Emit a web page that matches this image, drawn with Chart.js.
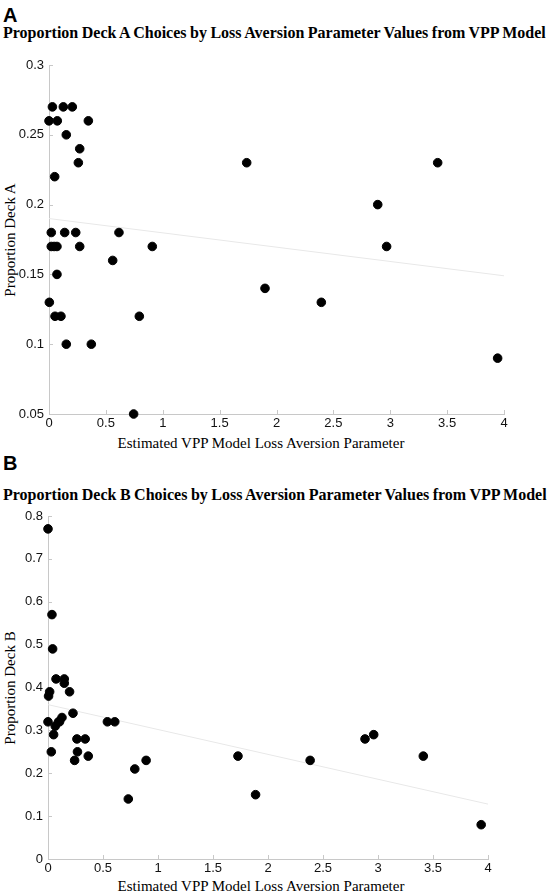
<!DOCTYPE html>
<html>
<head>
<meta charset="utf-8">
<script src="https://cdn.jsdelivr.net/npm/chart.js@4.4.1/dist/chart.umd.min.js"></script>
<style>
  body { margin: 0; background: #fff; width: 551px; height: 892px; position: relative; overflow: hidden; }
  canvas { position: absolute; left: 0; }
  .panel { position: absolute; left: 3px; font: bold 20px "Liberation Sans", Arial, sans-serif; line-height: 1; }
  .title { position: absolute; left: 3px; font: bold 16px "Liberation Serif", "Times New Roman", serif; white-space: nowrap; word-spacing: -0.5px; line-height: 1; }
  .xlab { position: absolute; font: 15px "Liberation Serif", "Times New Roman", serif; white-space: nowrap; transform: translateX(-50%); line-height: 1; }
  .ylab { position: absolute; font: 15px "Liberation Serif", "Times New Roman", serif; white-space: nowrap; transform: translate(-50%, -50%) rotate(-90deg); line-height: 1; }
</style>
</head>
<body>
<div class="panel" style="top:5px">A</div>
<div class="title" id="titleA" style="top:25px">Proportion Deck A Choices by Loss Aversion Parameter Values from VPP Model</div>
<div class="ylab" style="left:10px;top:240px">Proportion Deck A</div>
<div class="xlab" style="left:261px;top:436px">Estimated VPP Model Loss Aversion Parameter</div>
<canvas id="chartA" width="551" height="440" style="top:0"></canvas>

<div class="panel" style="top:453px">B</div>
<div class="title" id="titleB" style="top:487px">Proportion Deck B Choices by Loss Aversion Parameter Values from VPP Model</div>
<div class="ylab" style="left:10px;top:688px">Proportion Deck B</div>
<div class="xlab" style="left:261px;top:879px">Estimated VPP Model Loss Aversion Parameter</div>
<canvas id="chartB" width="551" height="440" style="top:440px"></canvas>

<script>
// panel A: loss aversion parameter vs proportion of deck A choices
const lossA = [0, 0.073, 0.346, 0.03, 0.126, 0.205, 0.152, 0.27, 0.258, 0.05,
  0.02, 0.138, 0.235, 0.615, 0.02, 0.045, 0.07, 0.27, 0.908, 0.56,
  0.07, 0.003, 0.053, 0.105, 0.794, 0.152, 0.372, 0.744,
  1.738, 3.417, 2.89, 2.968, 1.899, 2.394, 3.944];
const deckA = [0.26, 0.26, 0.26, 0.27, 0.27, 0.27, 0.25, 0.24, 0.23, 0.22,
  0.18, 0.18, 0.18, 0.18, 0.17, 0.17, 0.17, 0.17, 0.17, 0.16,
  0.15, 0.13, 0.12, 0.12, 0.12, 0.1, 0.1, 0.05,
  0.23, 0.23, 0.2, 0.17, 0.14, 0.13, 0.09];

// panel B: loss aversion parameter vs proportion of deck B choices
const lossB = [0, 0.036, 0.042, 0.073, 0.148, 0.148, 0.015, 0.005, 0.196, 0.227,
  0.127, 0.105, 0, 0.096, 0.54, 0.607, 0.066, 0.051, 0.263, 0.338,
  0.03, 0.268, 0.242, 0.366, 0.892, 0.789, 0.73,
  1.727, 1.887, 2.383, 2.882, 2.961, 3.412, 3.938];
const deckB = [0.77, 0.57, 0.49, 0.42, 0.42, 0.41, 0.39, 0.38, 0.39, 0.34,
  0.33, 0.32, 0.32, 0.32, 0.32, 0.32, 0.31, 0.29, 0.28, 0.28,
  0.25, 0.25, 0.23, 0.24, 0.23, 0.21, 0.14,
  0.24, 0.15, 0.23, 0.28, 0.29, 0.24, 0.08];

// fitted trend lines (ends at x = 0 and x = 4)
const trendX = [0, 4];
const trendA = [0.19, 0.149];
const trendB = [0.36, 0.128];

const axisGrey = "#c8c8c8";

//small ticks pointing into the plot, like the original figure
const innerTicks = {
  id: "innerTicks",
  beforeDatasetsDraw(chart) {
    const ctx = chart.ctx;
    const { x, y } = chart.scales;
    ctx.save();
    ctx.strokeStyle = axisGrey;
    ctx.lineWidth = 1;
    ctx.beginPath();
    x.ticks.forEach((t) => {
      const px = Math.round(x.getPixelForValue(t.value)) + 0.5;
      ctx.moveTo(px, y.bottom);
      ctx.lineTo(px, y.bottom - 4);
    });
    y.ticks.forEach((t) => {
      const py = Math.round(y.getPixelForValue(t.value)) + 0.5;
      ctx.moveTo(x.left, py);
      ctx.lineTo(x.left + 4, py);
    });
    ctx.stroke();
    ctx.restore();
  },
};

//plain tick text: 0.3 not 0.30, 1 not 1.0
const plainTick = (v) => String(Math.round(v * 100) / 100);

function makeChart(id, xs, ys, trend, yOpts, box) {
  const points = xs.map((v, i) => ({ x: v, y: ys[i] }));
  const line = trendX.map((v, i) => ({ x: v, y: trend[i] }));
  return new Chart(document.getElementById(id), {
    type: "scatter",
    data: {
      datasets: [
        {
          data: points,
          backgroundColor: "#000",
          borderColor: "#000",
          pointRadius: 4.3,
          pointHoverRadius: 4.3,
          clip: false,
          order: 1,
        },
        {
          type: "line",
          data: line,
          borderColor: "#e8e8e8",
          borderWidth: 1,
          pointRadius: 0,
          fill: false,
          order: 2,
        },
      ],
    },
    options: {
      responsive: false,
      animation: false,
      layout: { padding: { top: box.top, right: box.right, left: 0, bottom: 0 } },
      plugins: { legend: { display: false }, tooltip: { enabled: false } },
      scales: {
        x: {
          type: "linear",
          min: 0,
          max: 4,
          ticks: { stepSize: 0.5, padding: 2, color: "#111", font: { family: "Liberation Sans", size: 13 }, callback: plainTick },
          grid: { display: false, drawTicks: false },
          border: { display: true, color: axisGrey },
          afterFit: (s) => { s.height = box.xh; },
        },
        y: {
          type: "linear",
          min: yOpts.min,
          max: yOpts.max,
          ticks: { stepSize: yOpts.step, padding: 5, color: "#111", font: { family: "Liberation Sans", size: 13 }, callback: plainTick },
          grid: { display: false, drawTicks: false },
          border: { display: true, color: axisGrey },
          afterFit: (s) => { s.width = box.yw; },
        },
      },
    },
    plugins: [innerTicks],
  });
}

makeChart("chartA", lossA, deckA, trendA, { min: 0.05, max: 0.3, step: 0.05 }, { top: 65, right: 47, xh: 26, yw: 49 });
makeChart("chartB", lossB, deckB, trendB, { min: 0, max: 0.8, step: 0.1 }, { top: 76, right: 63, xh: 21, yw: 48 });
</script>
</body>
</html>
